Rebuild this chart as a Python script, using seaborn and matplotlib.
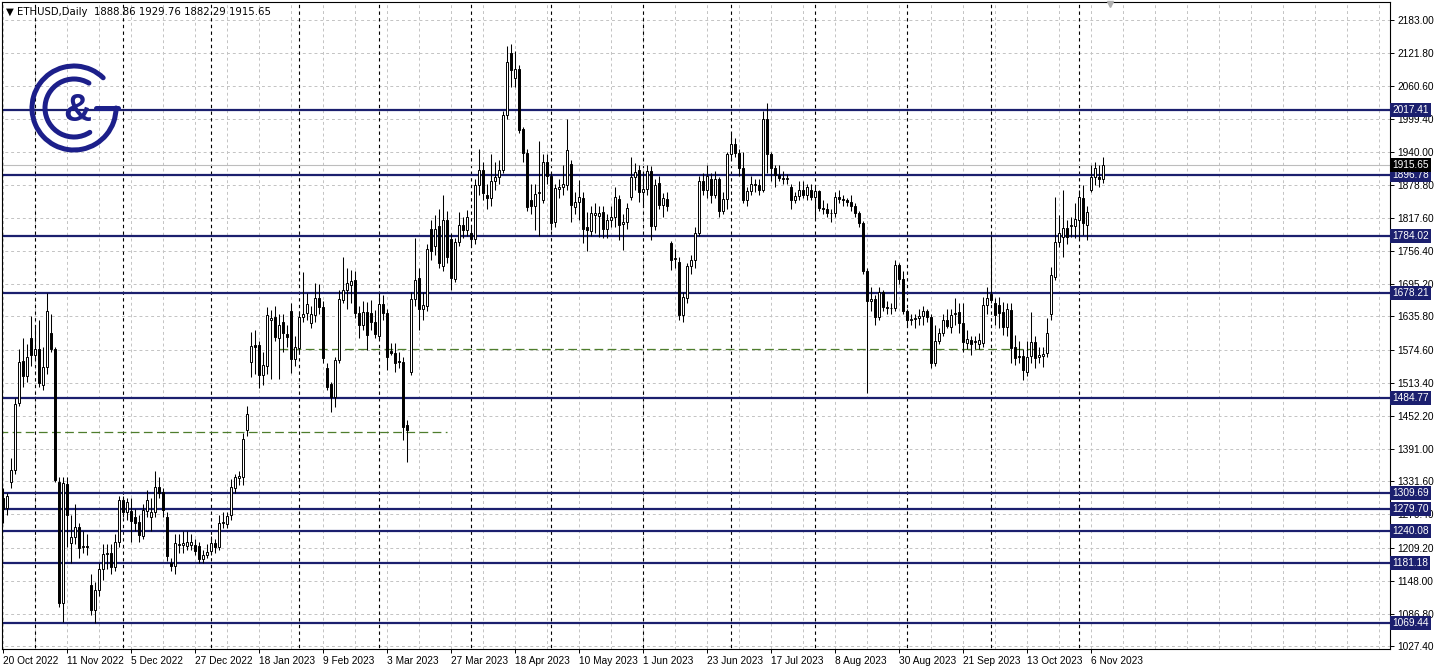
import numpy as np
import pandas as pd
import matplotlib
matplotlib.use("Agg")
import matplotlib.pyplot as plt
from matplotlib.patches import Arc
import seaborn as sns

# daily ETHUSD bars (weekdays only)
opens = [
    1300, 1282, 1330, 1352, 1476, 1554, 1526, 1596, 1565, 1576, 1509, 1543,
    1605, 1576, 1330, 1107, 1327, 1218, 1229, 1247, 1210, 1212, 1140, 1094,
    1131, 1170, 1197, 1200, 1173, 1219, 1297, 1275, 1277, 1265, 1256, 1231,
    1277, 1266, 1275, 1321, 1311, 1266, 1181, 1175, 1213, 1214, 1212, 1214,
    1214, 1212, 1188, 1195, 1203, 1218, 1210, 1254, 1253, 1269, 1319, 1337,
    1339, 1426, 1552, 1583, 1583, 1528, 1544, 1629, 1635, 1596, 1626, 1604,
    1646, 1557, 1578, 1635, 1642, 1624, 1638, 1670, 1653, 1541, 1511, 1487,
    1555, 1666, 1685, 1694, 1703, 1642, 1620, 1644, 1642, 1626, 1600, 1659,
    1642, 1572, 1568, 1554, 1552, 1435, 1533, 1668, 1707, 1650, 1655, 1797,
    1766, 1803, 1729, 1814, 1779, 1705, 1773, 1805, 1795, 1789, 1778, 1878,
    1906, 1860, 1854, 1885, 1894, 1907, 2008, 2122, 2075, 2092, 1981, 1938,
    1851, 1840, 1864, 1851, 1920, 1895, 1811, 1871, 1875, 1878, 1917, 1838,
    1847, 1854, 1801, 1794, 1823, 1821, 1829, 1797, 1814, 1819, 1853, 1806,
    1810, 1857, 1893, 1906, 1866, 1871, 1904, 1803, 1882, 1842, 1853, 1771,
    1742, 1736, 1638, 1670, 1729, 1740, 1790, 1885, 1870, 1890, 1860, 1890,
    1830, 1852, 1935, 1955, 1938, 1910, 1850, 1868, 1880, 1878, 1870, 2000,
    1935, 1910, 1897, 1892, 1890, 1875, 1850, 1858, 1870, 1860, 1870, 1857,
    1868, 1836, 1835, 1826, 1826, 1856, 1853, 1850, 1847, 1840, 1827, 1808,
    1720, 1665, 1668, 1635, 1680, 1654, 1651, 1652, 1730, 1704, 1645, 1630,
    1631, 1633, 1636, 1645, 1635, 1550, 1590, 1605, 1630, 1616, 1641, 1644,
    1624, 1587, 1592, 1588, 1585, 1587, 1657, 1677, 1661, 1657, 1644, 1616,
    1648, 1580, 1563, 1563, 1534, 1563, 1589, 1561, 1563, 1568, 1641, 1709,
    1773, 1782, 1799, 1802, 1803, 1814, 1854, 1805, 1869, 1893, 1893, 1888.86,
]
highs = [
    1320, 1310, 1375, 1485, 1575, 1596, 1585, 1637, 1620, 1630, 1580, 1679,
    1640, 1580, 1340, 1340, 1340, 1270, 1290, 1255, 1240, 1235, 1160, 1145,
    1180, 1215, 1215, 1215, 1235, 1305, 1305, 1300, 1300, 1280, 1270, 1290,
    1315, 1300, 1350, 1340, 1320, 1275, 1190, 1235, 1235, 1240, 1240, 1235,
    1225, 1220, 1205, 1215, 1230, 1225, 1270, 1275, 1275, 1335, 1345, 1350,
    1420, 1470, 1607, 1610, 1590, 1570, 1653, 1648, 1655, 1640, 1640, 1620,
    1660, 1600, 1645, 1718, 1679, 1655, 1698, 1695, 1665, 1550, 1515, 1560,
    1685, 1745, 1725, 1722, 1720, 1655, 1665, 1663, 1666, 1648, 1679, 1675,
    1650, 1587, 1587, 1570, 1560, 1445, 1680, 1781, 1725, 1680, 1770, 1814,
    1823, 1835, 1860, 1830, 1790, 1780, 1829, 1820, 1832, 1800, 1890, 1945,
    1920, 1880, 1935, 1920, 1925, 2015, 2135, 2138, 2125, 2100, 1985, 1945,
    1880, 1880, 1960, 1935, 1935, 1900, 1880, 1890, 1915, 2000, 1925, 1865,
    1888, 1865, 1829, 1840, 1845, 1840, 1840, 1825, 1840, 1875, 1860, 1825,
    1845, 1930, 1919, 1915, 1900, 1915, 1913, 1890, 1895, 1864, 1865, 1775,
    1760, 1745, 1680, 1735, 1750, 1800, 1895, 1900, 1915, 1900, 1905, 1893,
    1865, 1940, 1975, 1965, 1945, 1940, 1875, 1895, 1890, 1890, 2015, 2030,
    1940, 1915, 1915, 1905, 1898, 1880, 1865, 1885, 1885, 1880, 1880, 1875,
    1870, 1850, 1845, 1835, 1865, 1870, 1860, 1855, 1860, 1845, 1830, 1812,
    1725, 1690, 1675, 1690, 1685, 1665, 1660, 1740, 1735, 1720, 1650, 1640,
    1640, 1650, 1655, 1650, 1640, 1620, 1615, 1640, 1650, 1650, 1670, 1660,
    1661, 1610, 1600, 1600, 1605, 1672, 1690, 1785, 1670, 1672, 1663, 1660,
    1660, 1602, 1590, 1575, 1590, 1644, 1600, 1580, 1580, 1633, 1727, 1857,
    1823, 1869, 1814, 1820, 1845, 1870, 1878, 1840, 1915, 1920, 1915, 1929.76,
]
lows = [
    1255, 1270, 1320, 1345, 1470, 1506, 1515, 1545, 1555, 1505, 1500, 1530,
    1570, 1330, 1100, 1072, 1210, 1180, 1215, 1190, 1200, 1195, 1085, 1070,
    1120, 1150, 1170, 1160, 1165, 1210, 1265, 1260, 1220, 1240, 1220, 1225,
    1265, 1240, 1265, 1300, 1265, 1185, 1165, 1160, 1200, 1200, 1205, 1205,
    1195, 1180, 1180, 1190, 1195, 1200, 1205, 1245, 1245, 1260, 1310, 1325,
    1325, 1415, 1524, 1530, 1504, 1510, 1530, 1520, 1590, 1520, 1570, 1580,
    1531, 1545, 1570, 1625, 1630, 1615, 1625, 1640, 1550, 1500, 1459, 1469,
    1550, 1660, 1650, 1660, 1633, 1596, 1610, 1574, 1611, 1596, 1595, 1630,
    1537, 1565, 1533, 1540, 1408, 1367, 1528, 1655, 1611, 1629, 1645, 1740,
    1750, 1725, 1720, 1735, 1685, 1700, 1765, 1780, 1785, 1765, 1770, 1860,
    1850, 1835, 1840, 1870, 1880, 1900, 2000, 2060, 2060, 1975, 1920, 1830,
    1825, 1795, 1785, 1845, 1880, 1795, 1800, 1855, 1860, 1870, 1810, 1825,
    1814, 1771, 1756, 1785, 1790, 1783, 1780, 1780, 1800, 1800, 1777, 1758,
    1797, 1850, 1870, 1847, 1840, 1860, 1777, 1796, 1835, 1820, 1830, 1722,
    1725, 1629, 1626, 1660, 1715, 1725, 1785, 1860, 1855, 1845, 1855, 1820,
    1825, 1835, 1925, 1930, 1895, 1845, 1840, 1860, 1865, 1860, 1865, 1900,
    1885, 1875, 1885, 1880, 1880, 1835, 1845, 1850, 1855, 1850, 1850, 1815,
    1830, 1825, 1820, 1810, 1820, 1845, 1840, 1840, 1830, 1820, 1800, 1715,
    1495, 1645, 1620, 1630, 1645, 1640, 1640, 1645, 1695, 1640, 1620, 1620,
    1615, 1620, 1620, 1625, 1540, 1545, 1585, 1600, 1615, 1605, 1620, 1605,
    1570, 1575, 1565, 1575, 1575, 1580, 1640, 1660, 1620, 1615, 1602, 1600,
    1550, 1546, 1550, 1518, 1525, 1550, 1540, 1550, 1543, 1560, 1630, 1703,
    1764, 1746, 1770, 1782, 1780, 1780, 1786, 1777, 1865, 1878, 1875, 1882.29,
]
closes = [
    1280, 1304, 1352, 1474, 1552, 1526, 1561, 1565, 1576, 1513, 1543, 1646,
    1576, 1334, 1107, 1328, 1269, 1229, 1247, 1208, 1212, 1210, 1094, 1131,
    1170, 1197, 1199, 1173, 1219, 1297, 1275, 1293, 1258, 1255, 1232, 1279,
    1297, 1275, 1321, 1310, 1279, 1194, 1175, 1218, 1216, 1218, 1219, 1220,
    1203, 1188, 1196, 1201, 1218, 1210, 1255, 1256, 1267, 1321, 1339, 1341,
    1410, 1456, 1581, 1580, 1528, 1546, 1638, 1633, 1598, 1620, 1605, 1598,
    1557, 1580, 1635, 1640, 1659, 1640, 1670, 1653, 1559, 1506, 1487, 1555,
    1668, 1685, 1698, 1701, 1642, 1620, 1644, 1602, 1626, 1603, 1659, 1642,
    1561, 1568, 1550, 1552, 1432, 1426, 1668, 1703, 1650, 1657, 1760, 1757,
    1797, 1734, 1814, 1746, 1707, 1773, 1805, 1795, 1819, 1778, 1878, 1906,
    1863, 1854, 1885, 1894, 1907, 2008, 2106, 2091, 2092, 1980, 1938, 1838,
    1840, 1862, 1866, 1920, 1895, 1808, 1872, 1875, 1880, 1943, 1842, 1847,
    1856, 1797, 1795, 1827, 1827, 1826, 1797, 1814, 1819, 1856, 1805, 1810,
    1836, 1893, 1902, 1866, 1871, 1904, 1803, 1878, 1842, 1854, 1840, 1740,
    1744, 1638, 1672, 1729, 1740, 1790, 1885, 1870, 1895, 1860, 1890, 1830,
    1852, 1935, 1955, 1938, 1910, 1850, 1868, 1880, 1878, 1870, 2000, 1935,
    1910, 1897, 1892, 1890, 1891, 1850, 1858, 1870, 1860, 1875, 1857, 1868,
    1836, 1835, 1826, 1826, 1856, 1853, 1850, 1847, 1840, 1827, 1808, 1720,
    1665, 1668, 1635, 1680, 1654, 1651, 1652, 1730, 1704, 1645, 1630, 1631,
    1633, 1636, 1645, 1635, 1550, 1590, 1605, 1630, 1618, 1638, 1643, 1624,
    1589, 1594, 1585, 1590, 1592, 1657, 1670, 1666, 1638, 1642, 1616, 1649,
    1578, 1559, 1561, 1537, 1561, 1589, 1559, 1565, 1567, 1605, 1712, 1773,
    1790, 1799, 1782, 1804, 1816, 1856, 1808, 1829, 1893, 1910, 1889, 1915.65,
]

first_day = "2022-10-20"
price_ticks = [2183.00, 2121.80, 2060.60, 1999.40, 1940.00, 1878.80, 1817.60,
               1756.40, 1695.20, 1635.80, 1574.60, 1513.40, 1452.20, 1391.00,
               1331.60, 1270.40, 1209.20, 1148.00, 1086.80, 1027.40]
levels = [2017.41, 1896.78, 1784.02, 1678.21, 1484.77,
          1309.69, 1279.70, 1240.08, 1181.18, 1069.44]
last_price = 1915.65
green_levels = [1422.0, 1575.5]
green_starts = [-1, 69]
green_ends = [111, 258]
header = "\u25BC ETHUSD,Daily  1888.86 1929.76 1882.29 1915.65"

sns.set_theme(style="white")
plt.rcParams["font.family"] = ["Liberation Sans", "DejaVu Sans"]

NAVY = "#1b1f6e"
GRID = "#c3c3c3"

df = pd.DataFrame({"open": opens, "high": highs, "low": lows, "close": closes})
df["date"] = pd.bdate_range(first_day, periods=len(df))
df["bar"] = np.arange(len(df))
up = df[df["close"] >= df["open"]]
down = df[df["close"] < df["open"]]

W, H = 1438, 670
fig = plt.figure(figsize=(W / 100, H / 100), dpi=100, facecolor="white")
ax = fig.add_axes([2 / W, 21 / H, 1388 / W, 647 / H])
x_max = 346.7
ax.set_xlim(-0.33, x_max)
ax.set_ylim(1021.9, 2216.2)

# grid
ax.hlines(price_ticks, -1, x_max, colors=GRID, linestyles=(0, (3, 3)), lw=0.7, zorder=0)
ax.vlines(np.arange(0, x_max, 8), 1000, 2300, colors=GRID, linestyles=(0, (3, 3)), lw=0.7, zorder=0)
month_start = df.loc[df["date"].dt.month != df["date"].shift().dt.month, "bar"].iloc[1:]
ax.vlines(month_start, 1000, 2300, colors="black", linestyles=(0, (3, 3)), lw=0.8, zorder=1)

# support / resistance levels
for lv in levels:
    ax.axhline(lv, color=NAVY, lw=1.6, zorder=2)
for lv, x0, x1 in zip(green_levels, green_starts, green_ends):
    ax.hlines(lv, x0, x1, colors="#4e7d2c", linestyles=(0, (7, 3.5)), lw=0.9, zorder=2)
ax.axhline(last_price, color="#bdbdbd", lw=0.8, zorder=1)

# candles
ax.vlines(df["bar"], df["low"], df["high"], colors="black", lw=0.75, zorder=3)
ax.bar(up["bar"], up["close"] - up["open"], bottom=up["open"], width=0.55,
       color="white", edgecolor="black", lw=0.7, zorder=4)
ax.bar(down["bar"], down["open"] - down["close"], bottom=down["close"], width=0.55,
       color="black", edgecolor="black", lw=0.7, zorder=4)

# axes
for s in ax.spines.values():
    s.set_color("black")
    s.set_linewidth(0.8)
ax.yaxis.tick_right()
ax.set_yticks(price_ticks)
ax.set_yticklabels([f"{v:.2f}" for v in price_ticks])
label_bars = df["bar"].iloc[::16]
ax.set_xticks(label_bars)
ax.set_xticklabels([f"{d.day} {d.strftime('%b %Y')}" for d in df["date"].iloc[::16]], ha="left")
ax.tick_params(axis="both", length=3, width=0.7, color="black", labelsize=7.3, pad=2,
               labelcolor="black")
ax.tick_params(axis="y", right=True, left=False)
ax.tick_params(axis="x", bottom=True)

# price labels on the right scale
box = dict(boxstyle="square,pad=0.2", lw=0)
for lv in levels:
    ax.text(1.0015, lv, f"{lv:.2f}", transform=ax.get_yaxis_transform(), fontsize=7.3,
            color="white", va="center", ha="left", zorder=10,
            bbox={**box, "facecolor": NAVY}, clip_on=False)
ax.text(1.0015, last_price, f"{last_price:.2f}", transform=ax.get_yaxis_transform(),
        fontsize=7.3, color="white", va="center", ha="left", zorder=10,
        bbox={**box, "facecolor": "black"}, clip_on=False)

ax.text(0.003, 0.993, header, transform=ax.transAxes, fontsize=7.3, va="top", ha="left",
        color="black", zorder=10, family=["DejaVu Sans"])
ax.plot([276.7], [0.997], marker="v", ms=5, color="#b0b0b0",
        transform=ax.get_xaxis_transform(), clip_on=False, zorder=10)

# logo
lax = fig.add_axes([24 / W, (H - 158) / H, 100 / W, 100 / H])
lax.set_xlim(-50, 50)
lax.set_ylim(-50, 50)
lax.set_aspect("equal")
lax.axis("off")
lax.patch.set_alpha(0)
lax.add_patch(Arc((0, 0), 84, 84, theta1=46, theta2=360, lw=3.6, color="#1c1f8a", capstyle="round"))
lax.add_patch(Arc((0, 0), 58, 58, theta1=59, theta2=303, lw=3.6, color="#1c1f8a", capstyle="round"))
lax.plot([22, 44], [0, 0], color="#1c1f8a", lw=3.6)
lax.text(3, -3, "&", fontsize=28, fontweight="bold", color="#1c1f8a", ha="center", va="center")

fig.savefig("out.png", dpi=100)
